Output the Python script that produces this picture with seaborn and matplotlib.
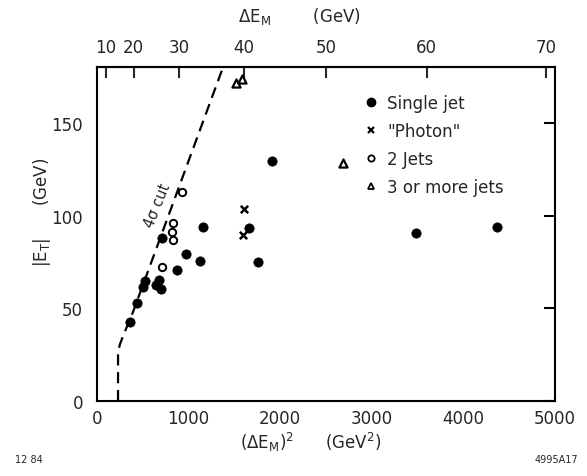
import numpy as np
import pandas as pd
import matplotlib
matplotlib.use("Agg")
import matplotlib.pyplot as plt
from matplotlib.lines import Line2D
import seaborn as sns

# (ΔE_M)^2 in GeV^2 and |E_T| in GeV for each event class
single_x = [360, 437, 502, 524, 644, 677, 699, 710, 873, 972, 1124, 1157,
            1659, 1758, 1910, 3483, 4367]
single_y = [42.6, 52.9, 61.5, 64.8, 62.6, 65.3, 60.4, 88.0, 70.7, 79.3, 75.6, 93.9,
            93.4, 75.0, 129.5, 90.7, 93.9]
photon_x = [1594, 1605]
photon_y = [89.6, 103.6]
two_jet_x = [710, 819, 830, 830, 928]
two_jet_y = [72.3, 91.0, 87.0, 96.0, 113.0]
three_jet_x = [1517, 1583, 2686]
three_jet_y = [171.6, 173.7, 128.4]

# 4 sigma cut boundary
cut_x = [230, 230, 250, 284, 393, 1375]
cut_y = [0, 26.5, 30.5, 35, 48, 180]

x_ticks = [0, 1000, 2000, 3000, 4000, 5000]
y_ticks = [0, 50, 100, 150]
top_ticks = [10, 20, 30, 40, 50, 60, 70]

sns.set_theme(style="white")
plt.rcParams["font.family"] = ["DejaVu Sans"]

fig = plt.figure(figsize=(5.87, 4.77), dpi=100)
ax = fig.add_axes([0.1652, 0.1572, 0.7803, 0.6992])

def frame(xs, ys):
    return pd.DataFrame({"x": xs, "y": ys})

sns.scatterplot(data=frame(single_x, single_y), x="x", y="y", ax=ax, marker="o",
                s=45, color="black", edgecolor="black", linewidth=0.5, zorder=3)
sns.scatterplot(data=frame(photon_x, photon_y), x="x", y="y", ax=ax, marker="x",
                s=28, color="black", linewidth=1.8, zorder=3)
sns.scatterplot(data=frame(two_jet_x, two_jet_y), x="x", y="y", ax=ax, marker="o",
                s=28, facecolor="white", edgecolor="black", linewidth=1.4, zorder=3)
sns.scatterplot(data=frame(three_jet_x, three_jet_y), x="x", y="y", ax=ax, marker="^",
                s=34, facecolor="white", edgecolor="black", linewidth=1.6, zorder=3)

sns.lineplot(data=frame(cut_x, cut_y), x="x", y="y", ax=ax, sort=False,
             estimator=None, errorbar=None, color="black", linewidth=1.6, zorder=2)
ax.lines[-1].set_dashes([5, 3])
ax.text(665, 106, "4σ cut", rotation=68, ha="center", va="center", fontsize=10.5)

ax.set_xlim(0, 5000)
ax.set_ylim(0, 180)
ax.set_xticks(x_ticks)
ax.set_yticks(y_ticks)
ax.set_xlabel("")
ax.set_ylabel("")
ax.tick_params(axis="both", direction="in", length=8, width=1.5, labelsize=12,
               color="black", pad=6, right=True)
ax.tick_params(axis="y", pad=10)
for s in ax.spines.values():
    s.set_linewidth(1.5)
    s.set_color("black")

# Top axis: ΔE_M in GeV
top = ax.secondary_xaxis("top", functions=(lambda v: np.sqrt(np.clip(v, 0, None)),
                                            lambda v: np.asarray(v) ** 2))
top.set_xticks(top_ticks)
top.tick_params(direction="in", length=8, width=1.5, labelsize=12, pad=8)
top.spines["top"].set_linewidth(1.5)
fig.text(0.51, 0.965, r"$\Delta\mathrm{E}_{\mathrm{M}}$        (GeV)", ha="center",
         va="center", fontsize=12)

fig.text(0.53, 0.072, r"$(\Delta\mathrm{E}_{\mathrm{M}})^2$      (GeV$^2$)", ha="center",
         va="center", fontsize=12)
fig.text(0.072, 0.555, r"$|\mathrm{E}_{\mathrm{T}}|$      (GeV)", rotation=90,
         ha="center", va="center", fontsize=12)

fig.text(0.025, 0.035, "12 84", fontsize=7, ha="left", va="center")
fig.text(0.985, 0.035, "4995A17", fontsize=7, ha="right", va="center")

handles = [
    Line2D([], [], linestyle="none", marker="o", markersize=6, color="black"),
    Line2D([], [], linestyle="none", marker="x", markersize=4.5, color="black",
           markeredgewidth=1.6),
    Line2D([], [], linestyle="none", marker="o", markersize=4.5,
           markerfacecolor="white", markeredgecolor="black", markeredgewidth=1.3),
    Line2D([], [], linestyle="none", marker="^", markersize=4.5,
           markerfacecolor="white", markeredgecolor="black", markeredgewidth=1.3),
]
labels = ["Single jet", '"Photon"', "2 Jets", "3 or more jets"]
ax.legend(handles, labels, loc="upper left", bbox_to_anchor=(0.565, 0.942),
          frameon=False, fontsize=12, handlelength=1.0, handletextpad=0.5,
          labelspacing=0.6, borderaxespad=0)

fig.savefig("out.png", dpi=100)
